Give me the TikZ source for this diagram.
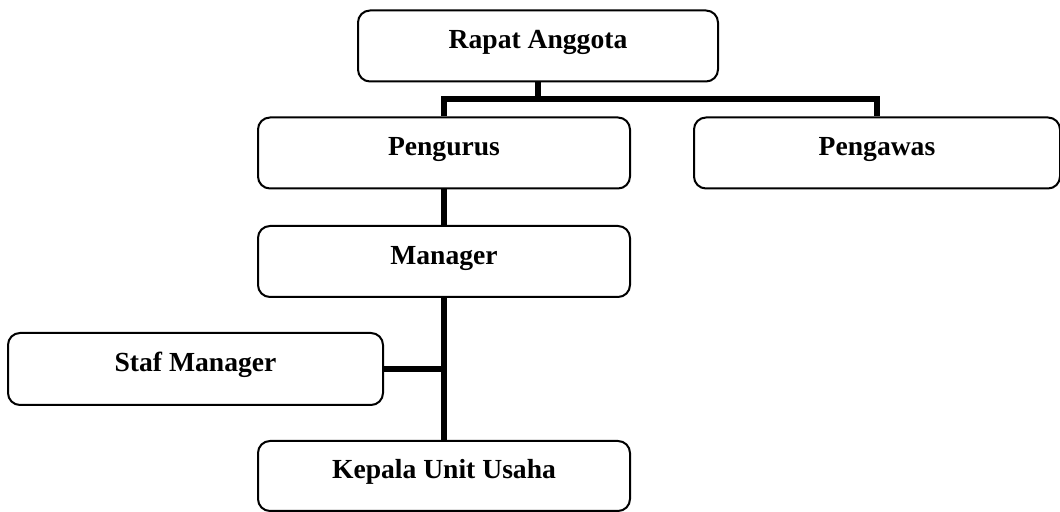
\documentclass[tikz,border=0pt]{standalone}
\usepackage{fontspec}
\setmainfont{Liberation Serif}
\usetikzlibrary{calc}

\begin{document}
\begin{tikzpicture}[x=0.5pt,y=-0.5pt]

\tikzstyle{org_block} = [draw, rounded corners=6pt, line width=1pt, draw=black,
minimum height=35.5pt, inner sep=2pt, text height=11.5pt, text depth=8.5pt,
font=\fontsize{13.8}{16}\selectfont\bfseries]
\tikzstyle{link} = [line width=3pt, draw=black, line join=miter]

\useasboundingbox (0,0) rectangle (1060,512);

\node [org_block, minimum width=180pt] (rapat) at (538,46) {Rapat Anggota};

\node [org_block, minimum width=186pt] (pengurus) at (444,153) {Pengurus};
\node [org_block, minimum width=183pt] (pengawas) at (877,153) {Pengawas};

\node [org_block, minimum width=186pt] (manager) at (444,261.5) {Manager};

\node [org_block, minimum width=187.5pt, minimum height=36pt] (staf) at (195.5,369) {Staf Manager};

\node [org_block, minimum width=186pt, minimum height=35pt] (kepala) at (444,476) {Kepala Unit Usaha};

% garis penghubung
\coordinate (bus) at (0,99);
\draw [link] (rapat.south) -- (rapat.south |- bus);
\draw [link] (pengurus.north) -- (pengurus.north |- bus) -- (pengawas.north |- bus) -- (pengawas.north);
\draw [link] (pengurus.south) -- (manager.north);
\draw [link] (manager.south) -- (kepala.north);
\draw [link] (staf.east) -- (staf.east -| manager.south);

\end{tikzpicture}
\end{document}
